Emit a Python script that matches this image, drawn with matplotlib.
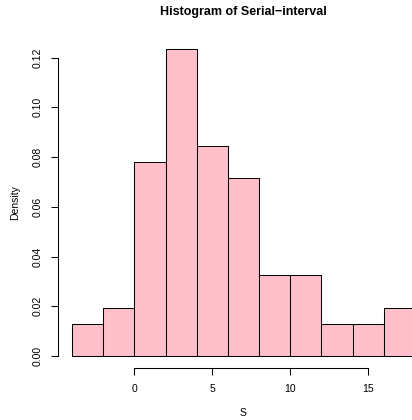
import matplotlib
matplotlib.use("Agg")
import matplotlib.pyplot as plt

# bin edges and densities
bin_left = [-4, -2, 0, 2, 4, 6, 8, 10, 12, 14, 16]
bin_width = 2
density = [0.013, 0.0195, 0.078, 0.1235, 0.0845, 0.0715, 0.0325, 0.0325, 0.013, 0.013, 0.0195]
x_ticks = [0, 5, 10, 15]
y_ticks = [0.00, 0.02, 0.04, 0.06, 0.08, 0.10, 0.12]

plt.rcParams["font.family"] = ["Liberation Sans", "DejaVu Sans"]

W, H = 412, 420
fig = plt.figure(figsize=(W / 100, H / 100), dpi=100)
# plot region in pixels (R style, extends past right edge)
left, right, top, bottom = 58.2, 428.8, 36.6, 368.3
ax = fig.add_axes([left / W, 1 - bottom / H, (right - left) / W, (bottom - top) / H])

ax.bar(bin_left, density, width=bin_width, align="edge",
       color="#FFC0CB", edgecolor="black", linewidth=0.75)

# R-style 4% range expansion
xr = (bin_left[0], bin_left[-1] + bin_width)
ax.set_xlim(xr[0] - 0.04 * (xr[1] - xr[0]), xr[1] + 0.04 * (xr[1] - xr[0]))
ymax = max(density)
ax.set_ylim(-0.04 * ymax, ymax * 1.04)

for s in ["top", "right"]:
    ax.spines[s].set_visible(False)
ax.spines["bottom"].set_bounds(x_ticks[0], x_ticks[-1])
ax.spines["left"].set_bounds(y_ticks[0], y_ticks[-1])
for s in ["bottom", "left"]:
    ax.spines[s].set_linewidth(0.75)

ax.set_xticks(x_ticks)
ax.set_xticklabels([str(t) for t in x_ticks])
ax.set_yticks(y_ticks)
ax.set_yticklabels([f"{t:.2f}" for t in y_ticks], rotation=90, va="center")
ax.tick_params(axis="both", direction="out", length=5, width=0.75, labelsize=7.5, colors="black")
ax.tick_params(axis="x", pad=6.5)
ax.tick_params(axis="y", pad=6)

cx = (left + 0.5 * (right - left)) / W
fig.text(cx, 1 - 11.5 / H, "Histogram of Serial\u2212interval", ha="center", va="center",
         fontsize=9, fontweight="bold")
fig.text(cx, 1 - 413 / H, "S", ha="center", va="center", fontsize=7.5)
fig.text(15 / W, 1 - (top + 0.5 * (bottom - top)) / H, "Density", rotation=90,
         ha="center", va="center", fontsize=7.5)

fig.savefig("out.png", dpi=100)
